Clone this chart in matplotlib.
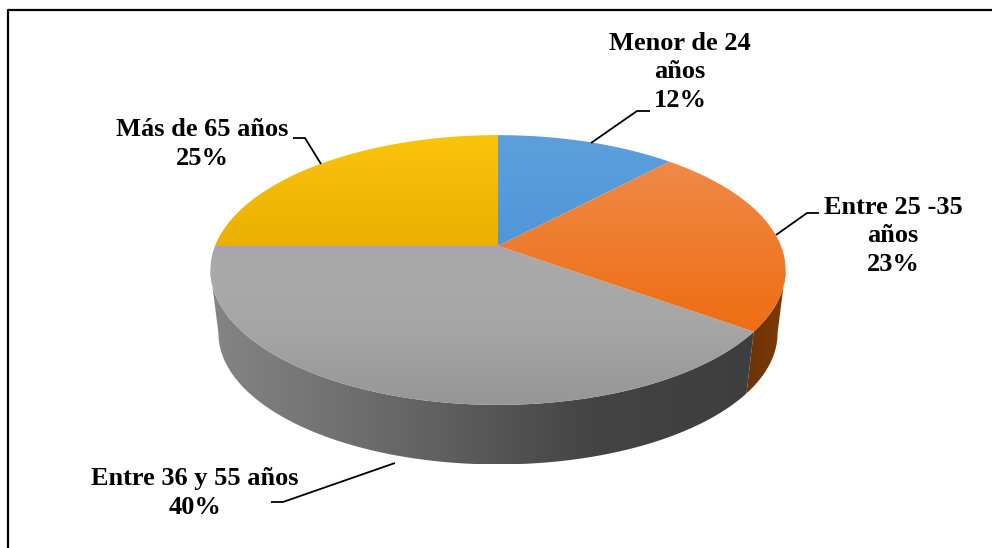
#!python
# 3d looking pie of age groups, drawn with a perspective projection of a circle

import numpy as np
import matplotlib.pyplot as plt
from matplotlib.colors import LinearSegmentedColormap
from matplotlib.patches import Polygon

# data
names = ['Menor de 24\naños', 'Entre 25 -35\naños', 'Entre 36 y 55 años', 'Más de 65 años']
shares = [12, 23, 40, 25]

# top face gradients, top to bottom of the slice
top_colors = [
	['#5d9fdc', '#4f97da'],
	['#ee8a48', '#ef6d12'],
	[(0, '#a8a2b2'), (0.05, '#aaa5b0'), (0.09, '#aaaaaa'), (0.5, '#a6a6a6'), (1, '#969696')],
	['#fbc40c', '#e9b000'],
]
side_colors = [
	None,
	['#6b3208', '#7f3c06'],
	[(0, '#858585'), (0.35, '#676767'), (0.7, '#444444'), (1, '#3e3e3e')],
	None,
]

label_pos = [(680, 72), (893, 236), (195, 493), (202, 144)]
leaders = [
	[(591, 143), (637, 111), (650, 111)],
	[(776, 235), (807, 213), (819, 213)],
	[(395, 463), (283, 502), (271, 502)],
	[(321, 164), (305, 138), (293, 138)],
]

cx, cy = 498, 246
rx, ry, persp = 283, 130.6, 0.178
depth, shrink = 64, 0.972


def rim(a0, a1, lower=False):
	# angle in degrees clockwise from 12 o'clock, pixel coordinates back
	t = np.radians(np.linspace(a0, a1, 240))
	u, v = np.sin(t), -np.cos(t)
	w = 1 - persp * v
	x, y = rx * u / w, ry * v / w
	if lower:
		return cx + x * shrink, cy + y * shrink + depth
	return cx + x, cy + y


def grad_fill(ax, xs, ys, colors, vertical=True):
	poly = Polygon(np.column_stack([xs, ys]), closed=True, fc='none', ec='none')
	ax.add_patch(poly)
	cmap = LinearSegmentedColormap.from_list('g', colors)
	g = np.linspace(0, 1, 256)
	g = g[:, None] if vertical else g[None, :]
	im = ax.imshow(g, cmap=cmap, aspect='auto', vmin=0, vmax=1, interpolation='bilinear',
		extent=(min(xs), max(xs), max(ys), min(ys)), zorder=2)
	im.set_clip_path(poly)


fig = plt.figure(figsize=(9.92, 5.48), dpi=100)
ax = fig.add_axes([0, 0, 1, 1])

edges = np.cumsum([0] + shares) * 3.6
# angle where the rim is widest, the side is only seen between these
sil = np.degrees(np.arccos(-persp))

# sides first
for i in range(len(shares)):
	if side_colors[i] is None:
		continue
	a0, a1 = max(edges[i], sil), min(edges[i + 1], 360 - sil)
	xt, yt = rim(a0, a1)
	xb, yb = rim(a0, a1, lower=True)
	xs = np.r_[xt, xb[::-1]]
	ys = np.r_[yt, yb[::-1]]
	grad_fill(ax, xs, ys, side_colors[i], vertical=False)

# top faces
for i in range(len(shares)):
	xt, yt = rim(edges[i], edges[i + 1])
	xs = np.r_[cx, xt]
	ys = np.r_[cy, yt]
	grad_fill(ax, xs, ys, top_colors[i])

# labels and leader lines
for i in range(len(shares)):
	x, y = label_pos[i]
	ax.text(x, y, f'{names[i]}\n{shares[i]}%', ha='center', va='center', fontsize=19,
		fontweight='bold', family='Liberation Serif', linespacing=1.33, color='black', zorder=5)
	ax.plot(*zip(*leaders[i]), color='black', lw=1.3, zorder=4, solid_capstyle='butt')

# frame, only left and top are inside the picture
ax.plot([7.5, 7.5, 992], [548, 10, 10], color='black', lw=1.6, zorder=6)

ax.set_xlim(0, 992)
ax.set_ylim(548, 0)
ax.axis('off')
fig.savefig('out.png', dpi=100, facecolor='white')
plt.close()
